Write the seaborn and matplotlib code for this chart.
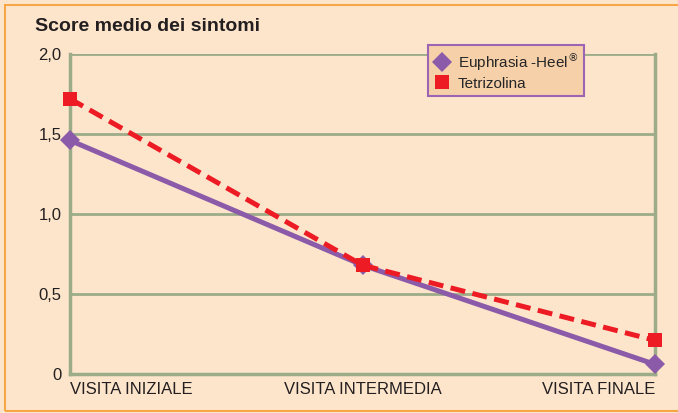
import pandas as pd
import numpy as np
from matplotlib import pyplot as plt
from matplotlib.patches import Rectangle
import seaborn as sns

visite = ["VISITA INIZIALE", "VISITA INTERMEDIA", "VISITA FINALE"]
euphrasia = [1.46, 0.68, 0.06]
tetrizolina = [1.72, 0.68, 0.21]
serie = ["Euphrasia -Heel$^{\\circledR}$", "Tetrizolina"]
yticks = [0, 0.5, 1.0, 1.5, 2.0]
ylabels = ["0", "0,5", "1,0", "1,5", "2,0"]

df = pd.DataFrame({
    "visita": list(range(len(visite))) * 2,
    "score": euphrasia + tetrizolina,
    "serie": [serie[0]] * 3 + [serie[1]] * 3,
})

sns.set_style("white")
plt.rcParams['font.family'] = ['Liberation Sans', 'DejaVu Sans']

bg = "#fde5cc"
grid = "#9cab88"
purple = "#8b5aa8"
red = "#ed1c24"

fig = plt.figure(figsize=(6.78, 4.13), dpi=100, facecolor=bg)
ax = fig.add_axes([0.1032, 0.0944, 0.863, 0.775])
ax.set_facecolor(bg)

sns.lineplot(data=df, x="visita", y="score", hue="serie", style="serie",
             palette=[purple, red], markers=["D", "s"],
             dashes=[(None, None), (3, 1.5)], linewidth=3.6, markersize=10,
             markeredgewidth=0, ax=ax, clip_on=False, zorder=5)

ax.set_xlim(0, 2)
ax.set_ylim(0, 2)
ax.set_yticks(yticks)
ax.set_yticklabels(ylabels, fontsize=12, color="#231f20")
ax.set_xticks([0, 1, 2])
ax.set_xticklabels(visite, fontsize=12, color="#231f20")
xl = ax.get_xticklabels()
xl[0].set_ha("left")
xl[2].set_ha("right")
ax.tick_params(length=0, pad=6)
ax.set_xlabel("")
ax.set_ylabel("")
ax.yaxis.grid(True, color=grid, linewidth=2)
for s in ["left", "right", "bottom"]:
    ax.spines[s].set_color(grid)
    ax.spines[s].set_linewidth(2.5)
ax.spines["top"].set_visible(False)
ax.set_axisbelow(True)

leg = ax.legend(loc="upper left", bbox_to_anchor=(0.612, 1.028), fontsize=11,
                frameon=True, fancybox=False, handlelength=1.1, borderaxespad=0,
                borderpad=0.35, labelspacing=0.25, handletextpad=0.5)
leg.get_frame().set_facecolor("#f6d0a8")
leg.get_frame().set_edgecolor("#9b64b4")
leg.get_frame().set_linewidth(1.5)
leg.get_frame().set_alpha(1)
leg.set_zorder(10)
for h in leg.legend_handles:
    h.set_linestyle("none")

fig.text(0.052, 0.935, "Score medio dei sintomi", fontsize=14, fontweight="bold",
         color="#231f20", va="center")

fig.patches.append(Rectangle((0.008, 0.005), 1.1, 0.983, transform=fig.transFigure,
                             fill=False, edgecolor="#f7a645", linewidth=1.5))

fig.savefig("out.png", dpi=100, facecolor=bg)
